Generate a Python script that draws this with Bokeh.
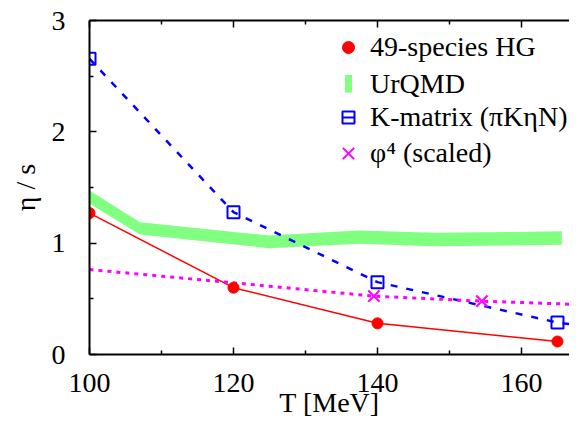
import math
from bokeh.plotting import figure
from bokeh.models import (FixedTicker, LinearAxis, Legend, LegendItem, Range1d,
                          CustomJSTickFormatter, BoxAnnotation)
from bokeh.embed import file_html
from bokeh.resources import INLINE

# ---------------- data ----------------
hg_T = [100, 120, 140, 165]
hg_eta = [1.27, 0.60, 0.28, 0.117]

urqmd_T = [100, 107, 124.9, 137.4, 147.8, 165.6]
urqmd_upper = [1.473, 1.188, 1.069, 1.114, 1.093, 1.107]
urqmd_lower = [1.356, 1.078, 0.955, 0.994, 0.973, 0.985]

kmat_T = [100, 120, 140, 165]
kmat_eta = [2.656, 1.278, 0.65, 0.287]
kfit_T = [100, 120, 140, 165, 169]
kfit_eta = [2.656, 1.278, 0.65, 0.287, 0.252]

phi_T = [139.5, 154.5]
phi_eta = [0.524, 0.479]
phicurve_T = [100, 120, 139.5, 154.5, 168]
phicurve_eta = [0.763, 0.644, 0.524, 0.479, 0.449]

x_ticks = [100, 120, 140, 160]
x_minor = [110, 130, 150]
y_ticks = [0, 1, 2, 3]
y_minor = [0.5, 1.5, 2.5]

x_title = "T [MeV]"
y_title = "η / s"
labels = ["49-species HG", "UrQMD", "K-matrix (πKηN)", "φ⁴ (scaled)"]

# ---------------- style ----------------
FONT = "Liberation Serif, DejaVu Serif, serif"
FS = "28px"
RED = "#ff0000"
GREEN = "#80ff80"
BLUE = "#0000ff"
MAG = "#ff00ff"

p = figure(width=569, height=426, output_backend="svg", toolbar_location=None,
           x_range=Range1d(100, 166.67), y_range=Range1d(0, 3),
           min_border_left=89, min_border_right=0, min_border_top=20,
           min_border_bottom=72, x_axis_label=x_title, y_axis_label=y_title)
p.outline_line_color = None
p.xgrid.visible = False
p.ygrid.visible = False
p.background_fill_color = "white"
p.border_fill_color = "white"

xt = FixedTicker(ticks=x_ticks, minor_ticks=x_minor)
yt = FixedTicker(ticks=y_ticks, minor_ticks=y_minor)


def style_axis(ax, ticker):
    ax.ticker = ticker
    ax.axis_line_width = 2
    ax.axis_line_color = "black"
    ax.major_tick_in = 7
    ax.major_tick_out = 0
    ax.minor_tick_in = 4
    ax.minor_tick_out = 0
    ax.major_tick_line_width = 1.5
    ax.minor_tick_line_width = 1.5
    ax.major_tick_line_color = "black"
    ax.minor_tick_line_color = "black"
    ax.major_label_text_font = FONT
    ax.major_label_text_font_size = FS
    ax.major_label_text_color = "black"
    ax.axis_label_text_font = FONT
    ax.axis_label_text_font_size = FS
    ax.axis_label_text_font_style = "normal"
    ax.axis_label_text_color = "black"


style_axis(p.xaxis[0], xt)
style_axis(p.yaxis[0], yt)
p.xaxis[0].major_label_standoff = 19
p.xaxis[0].axis_label_standoff = -8
p.yaxis[0].major_label_standoff = 24
p.yaxis[0].axis_label_standoff = 8

top = LinearAxis(formatter=CustomJSTickFormatter(code="return ''"))
style_axis(top, xt)
top.major_label_text_font_size = "1px"
top.major_label_standoff = 0
p.add_layout(top, "above")

# ---------------- glyphs ----------------
p.varea(x=urqmd_T, y1=urqmd_lower, y2=urqmd_upper, fill_color=GREEN)
p.line(hg_T, hg_eta, line_color=RED, line_width=1.5)
p.line(kfit_T, kfit_eta, line_color=BLUE, line_width=2.5, line_dash="7 9")
p.line(phicurve_T, phicurve_eta, line_color=MAG, line_width=3, line_dash="4 5")

r_hg = p.scatter(hg_T, hg_eta, marker="circle", size=11, fill_color=RED, line_color=RED)
r_km = p.scatter(kmat_T, kmat_eta, marker="square", size=12, fill_color=None,
                 line_color=BLUE, line_width=2)
r_phi = p.scatter(phi_T, phi_eta, marker="x", size=16, line_color=MAG, line_width=2)

nan = float("nan")
r_ur_leg = p.vbar(x=[nan], top=[nan], bottom=[nan], width=1, fill_alpha=0,
                  line_alpha=0)
r_km_dash = p.scatter(x=[nan], y=[nan], marker="dash", size=10, line_color=BLUE, line_width=2)
r_phi_leg = p.scatter(x=[nan], y=[nan], marker="x", size=16, line_color=MAG, line_width=2)

# legend swatch for the UrQMD band (canvas pixel units)
p.add_layout(BoxAnnotation(left=344.5, right=351.5, top=74.5, bottom=92,
                           left_units="canvas", right_units="canvas",
                           top_units="canvas", bottom_units="canvas",
                           fill_color=GREEN, fill_alpha=1, line_color=None))

# ---------------- legend (one per row) ----------------


def add_legend(label, renderers, center, gw, gh, x, standoff):
    leg = Legend(items=[LegendItem(label=label, renderers=renderers)],
                 location=(x, center - gh / 2), glyph_width=gw, glyph_height=gh,
                 label_standoff=standoff, label_height=gh, padding=0, margin=0,
                 spacing=0, border_line_color=None, background_fill_alpha=0,
                 label_text_font=FONT, label_text_font_size=FS,
                 label_text_color="black")
    p.add_layout(leg)


add_legend(labels[0], [r_hg], 305.7, 30, 30, 244, 7)
add_legend(labels[1], [r_ur_leg], 269.5, 30, 30, 244, 7)
add_legend(labels[2], [r_km, r_km_dash], 235.7, 30, 30, 244, 7)
add_legend(labels[3], [r_phi_leg], 201, 40, 40, 239, 2)

open("out.html", "w").write(file_html(p, INLINE))
